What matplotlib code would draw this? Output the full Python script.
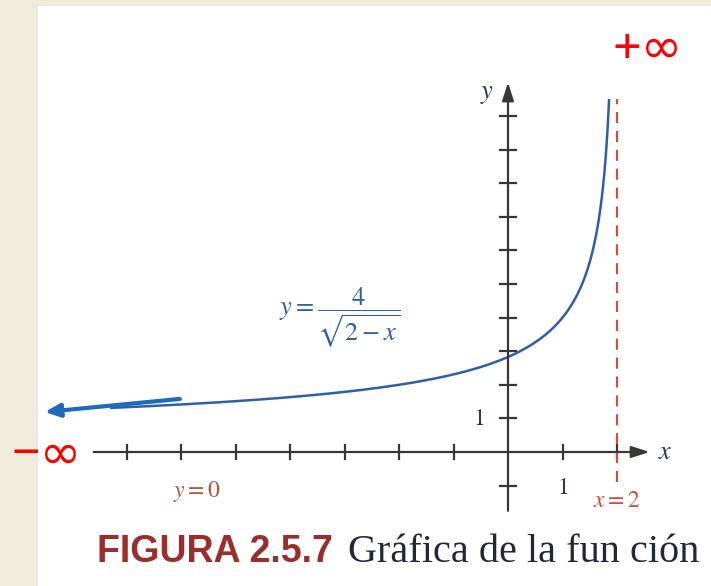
import numpy as np
import matplotlib.pyplot as plt
from matplotlib.patches import Rectangle

plt.rcParams['mathtext.fontset'] = 'stix'

# tick positions along both axes
x_ticks = [-7, -6, -5, -4, -3, -2, -1, 1, 2]
y_ticks = [-1, 1, 2, 3, 4, 5, 6, 7, 8, 9, 10]
x_start, x_end = -7.3, 1.855      # range of the plotted branch
asymptote_x = 2
asym_y = (-0.9, 10.5)

W, H = 711, 586
px_x, px_y = 54.5, 33.6           # pixels per unit
ox, oy = 508, 452                 # origin in pixels

fig = plt.figure(figsize=(W / 100, H / 100), dpi=100, facecolor='#efecdb')
fig.patches.append(Rectangle((38 / W, 0), 1, 1 - 6 / H, transform=fig.transFigure,
                             facecolor='white', edgecolor='none', zorder=0))
ax = fig.add_axes([0, 0, 1, 1])
ax.set_zorder(2)
ax.set_xlim(-ox / px_x, (W - ox) / px_x)
ax.set_ylim(-(H - oy) / px_y, oy / px_y)
ax.axis('off')
ax.patch.set_alpha(0)

axis_c = '#3b3631'
red_brown = '#c4553f'
navy = '#2b3563'

# axes with arrow heads
ax.annotate('', xy=(2.6, 0), xytext=(-7.6, 0),
            arrowprops=dict(arrowstyle='-|>,head_length=1.1,head_width=0.35',
                            color=axis_c, lw=1.6, shrinkA=0, shrinkB=0))
ax.annotate('', xy=(0, 11.0), xytext=(0, -1.75),
            arrowprops=dict(arrowstyle='-|>,head_length=1.1,head_width=0.35',
                            color=axis_c, lw=1.6, shrinkA=0, shrinkB=0))
for t in x_ticks:
    ax.plot([t, t], [-0.22, 0.22], color=axis_c, lw=1.6)
for t in y_ticks:
    ax.plot([-0.15, 0.15], [t, t], color=axis_c, lw=1.6)

# vertical asymptote
ax.plot([asymptote_x, asymptote_x], asym_y, color=red_brown, lw=1.6,
        dashes=(5, 3.5))

# y = 4 / sqrt(2 - x)
xs = np.linspace(x_start, x_end, 400)
ax.plot(xs, 4 / np.sqrt(2 - xs), color='#2f5fa6', lw=1.8, solid_capstyle='butt')

# arrow toward -infinity
ax.annotate('', xy=(-8.5, 1.19), xytext=(-6.02, 1.58),
            arrowprops=dict(arrowstyle='-|>,head_length=0.9,head_width=0.4',
                            color='#1c6bbf', lw=3.0, shrinkA=0, shrinkB=0))

# labels
ax.text(-3.08, 3.99, r'$y=\dfrac{4}{\sqrt{2-x}}$', color='#2f5fa6', fontsize=19,
        ha='center', va='center')
ax.text(2.88, 0, r'$x$', color=navy, fontsize=19, ha='center', va='center')
ax.text(-0.39, 10.68, r'$y$', color=navy, fontsize=19, ha='center', va='center')
ax.text(1.01, -1.04, r'$1$', color=navy, fontsize=17, ha='center', va='center')
ax.text(-0.53, 1.0, r'$1$', color=navy, fontsize=17, ha='center', va='center')
ax.text(2.0, -1.43, r'$x=2$', color=red_brown, fontsize=17, ha='center', va='center')
ax.text(-5.72, -1.19, r'$y=0$', color='#b5553a', fontsize=17, ha='center', va='center')

inf_font = ['Noto Sans', 'DejaVu Sans']
ax.text(2.57, 11.95, '+∞', color='#ff0000', fontsize=36, family=inf_font,
        ha='center', va='center')
ax.text(-8.46, -0.12, '−∞', color='#ff0000', fontsize=36, family=inf_font,
        ha='center', va='center')

# caption
ax.text(-7.54, -3.27, 'FIGURA 2.5.7', color='#9b2d2a', fontsize=27,
        family=['Liberation Sans', 'DejaVu Sans'],
        weight='bold', ha='left', va='baseline')
ax.text(-2.93, -3.27, 'Gráfica de la fun ción', color='#26263a', fontsize=29,
        family=['Liberation Serif', 'DejaVu Serif'], ha='left', va='baseline')

fig.savefig('out.png', dpi=100, facecolor=fig.get_facecolor())
